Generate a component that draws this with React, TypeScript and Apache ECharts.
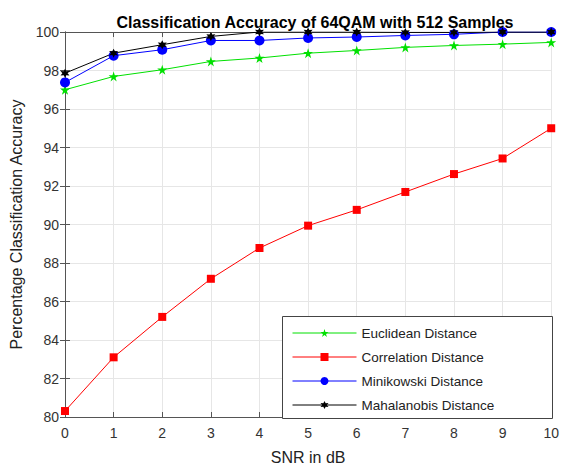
import React, { useEffect, useRef } from "react";
import * as echarts from "echarts";

const snr = [0, 1, 2, 3, 4, 5, 6, 7, 8, 9, 10];
const euclidean = [97.0, 97.69, 98.04, 98.47, 98.65, 98.9, 99.04, 99.2, 99.3, 99.37, 99.46];
const correlation = [80.31, 83.1, 85.2, 87.18, 88.78, 89.94, 90.76, 91.69, 92.62, 93.43, 95.0];
const minikowski = [97.38, 98.77, 99.08, 99.56, 99.56, 99.69, 99.74, 99.82, 99.88, 100, 100];
const mahalanobis = [97.86, 98.9, 99.34, 99.77, 100, 100, 100, 99.98, 99.98, 100, 100];
const seriesNames = ["Euclidean Distance", "Correlation Distance", "Minikowski Distance", "Mahalanobis Distance"];

const pentagram =
  "path://M10 0 L12.25 6.91 L19.51 6.91 L13.63 11.18 L15.88 18.09 L10 13.82 L4.12 18.09 L6.37 11.18 L0.49 6.91 L7.75 6.91 Z";
const hexagram =
  "path://M10 0 L12.5 5.67 L18.66 5 L15 10 L18.66 15 L12.5 14.33 L10 20 L7.5 14.33 L1.34 15 L5 10 L1.34 5 L7.5 5.67 Z";

const FONT = "Liberation Sans, Arial, sans-serif";

export default function App() {
  const ref = useRef<HTMLDivElement>(null);
  useEffect(() => {
    if (!ref.current) return;
    const chart = echarts.init(ref.current, undefined, { renderer: "svg" });
    const pair = (ys: number[]) => snr.map((x, i) => [x, ys[i]]);
    const axisCommon = {
      axisLine: { show: true, lineStyle: { color: "#555", width: 1 } },
      axisTick: { show: true, inside: true, length: 5, lineStyle: { color: "#555" } },
    };
    const mk = (name: string, data: number[], color: string, symbol: string, size: number) => ({
      name,
      type: "line",
      data: pair(data),
      symbol,
      symbolSize: size,
      showSymbol: true,
      lineStyle: { color, width: 1 },
      itemStyle: { color, borderWidth: 0 },
      z: 2,
    });
    chart.setOption({
      animation: false,
      backgroundColor: "#fff",
      textStyle: { fontFamily: FONT },
      title: {
        text: "Classification Accuracy of 64QAM with 512 Samples",
        left: 310,
        textAlign: "center",
        top: 9,
        textStyle: { fontFamily: FONT, fontSize: 16, fontWeight: "bold", color: "#000" },
      },
      grid: { left: 65, right: 8, top: 32, bottom: 50, containLabel: false },
      xAxis: [
        {
          type: "value",
          min: 0,
          max: 10,
          interval: 1,
          position: "bottom",
          name: "SNR in dB",
          nameLocation: "middle",
          nameGap: 32,
          nameTextStyle: { fontFamily: FONT, fontSize: 16, color: "#222" },
          ...axisCommon,
          axisLabel: { fontFamily: FONT, fontSize: 14, color: "#333", margin: 9 },
          splitLine: { show: true, lineStyle: { color: "#e6e6e6", width: 1 } },
        },
        {
          type: "value",
          min: 0,
          max: 10,
          interval: 1,
          position: "top",
          ...axisCommon,
          axisLabel: { show: false },
          splitLine: { show: false },
        },
      ],
      yAxis: [
        {
          type: "value",
          min: 80,
          max: 100,
          interval: 2,
          position: "left",
          name: "Percentage Classification Accuracy",
          nameLocation: "middle",
          nameGap: 37,
          nameTextStyle: { fontFamily: FONT, fontSize: 16, color: "#222" },
          ...axisCommon,
          axisLabel: { fontFamily: FONT, fontSize: 14, color: "#333", margin: 6 },
          splitLine: { show: true, lineStyle: { color: "#e6e6e6", width: 1 } },
        },
        {
          type: "value",
          min: 80,
          max: 100,
          interval: 2,
          position: "right",
          ...axisCommon,
          axisLabel: { show: false },
          splitLine: { show: false },
        },
      ],
      legend: {
        orient: "vertical",
        left: 292,
        top: 326,
        itemWidth: 64,
        itemHeight: 10,
        itemGap: 10,
        padding: 0,
        data: seriesNames,
        lineStyle: { width: 1 },
        textStyle: { fontFamily: FONT, fontSize: 13.5, color: "#222" },
        z: 10,
      },
      graphic: [
        {
          type: "rect",
          left: 282,
          top: 316,
          z: 5,
          shape: { width: 270, height: 102 },
          style: { fill: "#fff", stroke: "#444", lineWidth: 1 },
        },
      ],
      series: [
        mk(seriesNames[0], euclidean, "#00e000", pentagram, 10),
        mk(seriesNames[1], correlation, "#ff0000", "rect", 8),
        mk(seriesNames[2], minikowski, "#0000ff", "circle", 10),
        mk(seriesNames[3], mahalanobis, "#000000", hexagram, 9),
      ],
    });
    return () => chart.dispose();
  }, []);
  return <div ref={ref} style={{ position: "absolute", left: 0, top: 0, width: 562, height: 470 }} />;
}
